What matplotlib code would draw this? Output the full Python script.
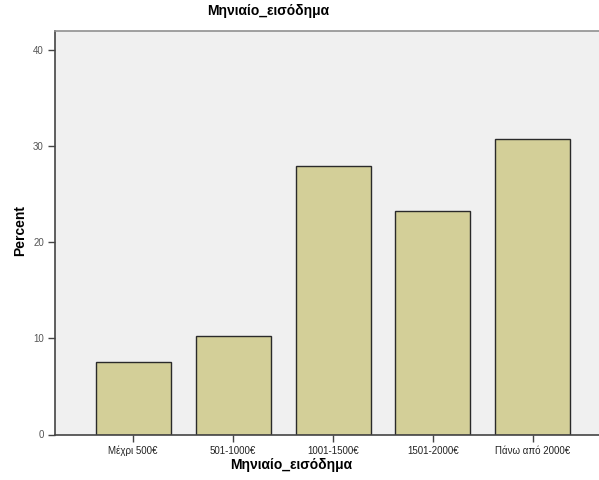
import matplotlib
matplotlib.use("Agg")
import matplotlib.pyplot as plt

# Μηνιαίο εισόδημα (percent)
categories = ["Μέχρι 500€", "501-1000€", "1001-1500€", "1501-2000€", "Πάνω από 2000€"]
percent = [7.5, 10.3, 28.0, 23.3, 30.8]
yticks = [0, 10, 20, 30, 40]

plt.rcParams['font.family'] = ['Liberation Sans', 'DejaVu Sans']

fig = plt.figure(figsize=(5.99, 4.8), dpi=100)
ax = fig.add_axes([55 / 599, 1 - 434.5 / 480, 1 - 55 / 599, (434.5 - 31) / 480])
ax.set_facecolor('#f0f0f0')

x = list(range(len(categories)))
ax.bar(x, percent, width=0.75, color='#d3cf98', edgecolor='#2a2a2a', linewidth=1.0, zorder=2)

ax.set_xlim(-0.78, 4.66)
ax.set_ylim(0, 42)
ax.set_xticks(x)
ax.set_xticklabels(categories, fontsize=7, color='#222222')
ax.set_yticks(yticks)
ax.set_yticklabels([str(t) for t in yticks], fontsize=7, color='#555555')
ax.tick_params(axis='both', direction='out', length=5, width=1, color='#444444', pad=3)

for side in ['left', 'bottom']:
    ax.spines[side].set_color('#444444')
    ax.spines[side].set_linewidth(1.2)
ax.spines['top'].set_color('#909090')
ax.spines['top'].set_linewidth(1.2)
ax.spines['right'].set_visible(False)

fig.text(268 / 599, 1 - 11 / 480, "Μηνιαίο_εισόδημα", ha='center', va='center',
         fontsize=10, fontweight='bold')
fig.text(291 / 599, 1 - 465 / 480, "Μηνιαίο_εισόδημα", ha='center', va='center',
         fontsize=10, fontweight='bold')
fig.text(20 / 599, 1 - 230 / 480, "Percent", ha='center', va='center', rotation=90,
         fontsize=10, fontweight='bold')

fig.savefig("out.png", dpi=100)
